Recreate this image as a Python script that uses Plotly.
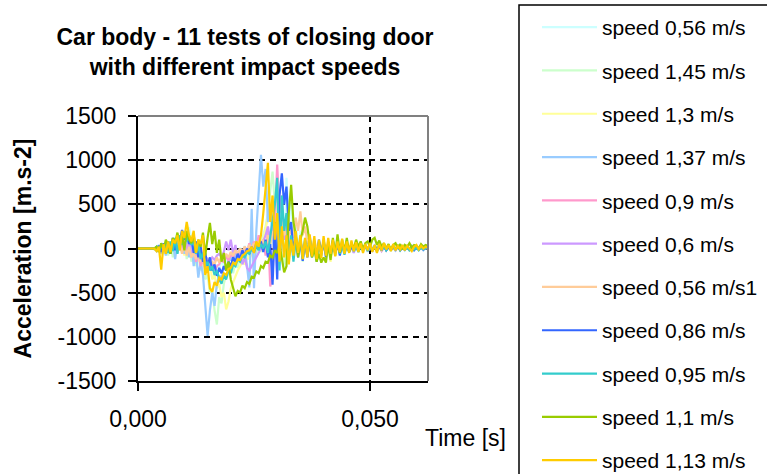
import plotly.graph_objects as go

# ---------------- data ----------------
SAMPLE_STEP_S = 0.0005
N_SAMPLES = 126
time_s = [round(i * SAMPLE_STEP_S, 4) for i in range(N_SAMPLES)]

series_names = [
    "speed 0,56 m/s", "speed 1,45 m/s", "speed 1,3 m/s", "speed 1,37 m/s",
    "speed 0,9 m/s", "speed 0,6 m/s", "speed 0,56 m/s1", "speed 0,86 m/s",
    "speed 0,95 m/s", "speed 1,1 m/s", "speed 1,13 m/s",
]
series_colors = [
    "#CCFFFF", "#CCFFCC", "#FFFF99", "#99CCFF", "#FF99CC", "#CC99FF",
    "#FFCC99", "#3366FF", "#33CCCC", "#99CC00", "#FFCC00",
]

acc_056 = [0, 0, 0, 0, 0, 0, 0, 0, 10, -20,
           30, -40, 60, -50, 80, -30, 100, -60, 120, 40,
           180, 60, 240, 120, 150, -40, 60, -120, -80, -180,
           -120, -200, -150, -260, -180, -230, -140, -200, -100, -160,
           -60, -120, -20, -90, 10, -60, 30, -40, 60, -20,
           40, -80, 80, 20, 150, -60, 200, 40, 120, -100,
           300, -150, 550, -210, 800, 300, 550, 100, 350, -50,
           200, -80, 120, -40, 90, -60, 60, -30, 80, -20,
           60, -50, 40, -30, 70, -10, 50, -40, 30, -20,
           60, -30, 40, -50, 30, -20, 50, -30, 20, -40,
           40, -20, 50, -30, 30, -10, 40, -20, 30, -30,
           20, -20, 30, -10, 40, -20, 20, -30, 30, -10,
           20, -20, 10, -10, 20, 0]

acc_145 = [0, 0, 0, 0, 0, 0, 0, -10, 20, -30,
           40, -60, 30, -80, 60, -100, 80, -40, 150, -60,
           120, -120, 80, -150, 40, -200, -50, -250, -150, -350,
           -300, -500, -450, -700, -860, -550, -620, -400, -300, -250,
           -200, -280, -150, -220, -100, -160, -50, -120, -20, -80,
           20, -60, 80, -40, 150, 250, 400, 650, 870, 500,
           300, -100, 150, -180, 100, -50, 120, -60, 80, -30,
           100, -150, 60, -80, 40, -60, 80, -20, 60, -40,
           50, -30, 70, -20, 40, -50, 30, -10, 50, -30,
           40, -20, 30, -40, 50, -10, 30, -30, 40, -20,
           30, -20, 40, -30, 20, -10, 30, -20, 40, -10,
           20, -30, 30, -10, 20, -20, 30, -10, 20, -20,
           10, -10, 20, -10, 10, 0]

acc_130 = [0, 0, 0, 0, 0, 0, 0, 0, -20, 30,
           -40, 20, -60, 40, -30, 80, -50, 100, -20, 60,
           -80, 120, -40, 150, -100, 60, -150, 20, -200, -100,
           -250, -180, -350, -300, -450, -400, -550, -500, -690, -600,
           -450, -380, -300, -250, -200, -150, -180, -100, -120, -60,
           -80, -20, 40, -30, 100, 200, 350, 500, 600, 300,
           150, -50, 100, -100, 80, -40, 60, -80, 40, -20,
           80, -60, 40, -100, 30, -50, 60, -120, 20, -60,
           40, -30, 60, -150, 20, -40, 50, -20, 30, -50,
           40, -30, 20, -40, 50, -20, 30, -10, 40, -30,
           20, -20, 30, -10, 40, -30, 20, -20, 30, -10,
           20, -10, 30, -20, 10, -10, 20, -20, 10, -10,
           20, -10, 10, -10, 10, 0]

acc_137 = [0, 0, 0, 0, 0, 0, 0, 0, -30, 40,
           -60, 20, -80, 50, -40, 100, -120, 60, -20, 80,
           -60, 120, -100, 60, -200, -50, -330, -150, -300, -600,
           -990, -700, -500, -650, -400, -300, -350, -200, -250, -150,
           -100, -180, -50, -120, -20, -80, 0, -200, -440, 450,
           -450, 200, 600, 1060, 700, 900, 300, 500, 100, -50,
           200, -100, 150, -80, 100, -50, 80, -60, 60, -20,
           80, -40, 50, -30, 40, -60, 70, -20, 30, -40,
           60, -30, 40, -20, 50, -40, 30, -10, 60, -30,
           40, -20, 30, -40, 50, -10, 40, -30, 20, -20,
           60, -10, 30, -30, 20, -10, 40, -20, 30, -10,
           20, -20, 30, -10, 20, -20, 10, -10, 30, -10,
           20, -10, 10, -20, 10, 0]

acc_090 = [0, 0, 0, 0, 0, 0, 0, 0, 10, -20,
           30, -30, 50, -40, 60, -20, 80, -50, 100, -30,
           120, -60, 80, -100, 40, -150, -50, -200, -120, -250,
           -180, -220, -150, -250, -200, -180, -120, -160, -80, -140,
           -60, -100, -20, -80, 0, -60, 20, -40, 60, -20,
           80, 0, 150, 50, 100, -80, 200, -430, -300, 300,
           950, 400, 600, 100, 300, -100, 150, -50, 100, -60,
           80, -40, 60, -80, 40, -20, 50, -30, 70, -40,
           40, -20, 60, -30, 30, -50, 40, -10, 50, -30,
           30, -20, 40, -30, 50, -20, 30, -10, 40, -20,
           30, -30, 20, -10, 40, -20, 30, -20, 20, -10,
           30, -10, 20, -20, 10, -10, 20, -20, 10, -10,
           20, -10, 10, -10, 10, 0]

acc_060 = [0, 0, 0, 0, 0, 0, 0, 0, 10, -10,
           20, -20, 40, -30, 50, -20, 60, -40, 80, -20,
           60, -50, 40, -80, 20, -100, -40, -150, -80, -180,
           -120, -150, -100, -130, -80, -60, -100, -40, 80, -20,
           100, -60, 40, -120, -50, -180, -100, -220, -250, -200,
           -150, -100, -50, 0, 80, 150, 250, 100, 300, 150,
           200, 50, 350, 100, 200, -50, 120, -60, 80, -40,
           60, -80, 40, -60, 30, -100, 50, -40, 20, -60,
           40, -20, 30, -80, 20, -40, 50, -30, 30, -20,
           40, -30, 20, -50, 30, -20, 40, -10, 30, -30,
           20, -20, 30, -10, 20, -30, 10, -10, 20, -10,
           10, -20, 20, -10, 10, -10, 20, -10, 10, -10,
           10, -10, 10, -10, 10, 0]

acc_056b = [0, 0, 0, 0, 0, 0, 0, 0, 10, -10,
            20, -30, 30, -40, 60, -20, 80, -40, 60, -60,
            40, -80, 20, -100, -40, -120, -60, -150, -100, -180,
            -120, -200, -150, -180, -100, -160, -80, -120, -60, -100,
            -40, -80, -20, -60, 0, -40, 20, -20, 40, 0,
            60, 20, 80, 40, 100, -20, 150, 50, 200, 100,
            250, 80, 300, 150, 200, 100, 250, 120, 350, 200,
            420, 150, 250, 50, 150, -20, 100, -30, 80, -20,
            60, -40, 50, -20, 70, -10, 40, -30, 50, -20,
            30, -10, 40, -30, 20, -10, 50, -20, 30, -10,
            40, -20, 20, -10, 30, -20, 20, -10, 30, -10,
            20, -10, 20, -20, 10, -10, 20, -10, 10, -10,
            10, -10, 10, -10, 10, 0]

acc_086 = [0, 0, 0, 0, 0, 0, 0, 0, -20, 30,
           -40, 60, -30, 80, -60, 120, -20, 150, 80, 210,
           100, 180, 50, 120, -50, 80, -100, 20, -150, -50,
           -200, -100, -250, -180, -310, -220, -280, -200, -250, -150,
           -200, -100, -150, -60, -120, -20, -80, 0, -60, 20,
           -40, 60, 0, 80, -40, 100, -100, 50, -410, 300,
           -350, 600, 850, 500, 700, 200, 300, -50, 150, -100,
           100, -140, 80, -100, 120, -80, 60, -120, 100, -60,
           80, -100, 50, -70, 90, -40, 60, -80, 50, -50,
           50, -40, 20, -20, 40, -30, 30, -10, 40, -20,
           20, -30, 30, -10, 20, -20, 40, -20, 10, -10,
           30, -10, 20, -20, 10, -10, 20, -10, 10, -20,
           10, -10, 20, -10, 10, 0]

acc_095 = [0, 0, 0, 0, 0, 0, 0, 0, 20, -30,
           40, -20, 60, -50, 80, -30, 120, -60, 150, 40,
           190, 80, 150, 40, 100, -60, 50, -120, -50, -200,
           -150, -250, -200, -300, -250, -350, -400, -300, -350, -250,
           -280, -180, -200, -120, -150, -80, -100, -40, -60, 0,
           -30, 20, -20, 50, 0, 80, -50, 150, 300, 500,
           800, -250, 600, 200, 400, -100, 150, -150, 100, -50,
           120, -120, 100, -60, 140, -100, 80, -150, 60, -80,
           100, -60, 50, -100, 70, -40, 80, -60, 40, -70,
           40, -20, 50, -30, 20, -40, 30, -10, 40, -30,
           30, -20, 20, -30, 40, -10, 20, -20, 30, -10,
           20, -10, 30, -20, 20, -10, 10, -20, 20, -10,
           10, -20, 10, -10, 10, 0]

acc_110 = [0, 0, 0, 0, 0, 0, 0, 0, 20, -40,
           60, -20, 100, 40, -60, 120, 60, 180, 40, 150,
           -20, 200, 100, 60, 150, -40, 100, 20, 180, -80,
           120, 290, 50, 200, -50, 100, -150, -50, -250, -150,
           -350, -450, -540, -480, -500, -420, -450, -380, -400, -320,
           -330, -260, -280, -200, -220, -150, -160, -80, -100, -20,
           -50, 50, -100, -270, -200, 400, 720, 300, 150, -100,
           100, 200, 350, 250, 50, -100, 0, -150, -60, -160,
           -100, -160, 60, -130, 120, -80, 160, -50, 100, -30,
           120, -40, 60, 0, 100, 20, 80, -10, 60, 80,
           20, 100, 120, 40, 90, 20, 60, 0, 50, -20,
           40, 60, 0, 50, -10, 40, 20, 60, 10, 40,
           30, 0, 50, 20, 40, 30]

acc_113 = [0, 0, 0, 0, 0, 0, 0, 0, -30, 20,
           -240, 50, -60, 80, -40, 100, 60, 150, -20, 200,
           120, 300, 150, 80, 200, -50, 100, 50, 150, -300,
           -200, -450, -490, -380, -420, -330, -350, -280, -300, -230,
           -220, -160, -180, -120, -130, -80, -60, -30, -20, 20,
           -50, 80, 20, 150, 400, 700, 970, 300, 600, 100,
           400, -150, 250, -100, 150, -180, 100, -80, 200, -50,
           150, -120, 120, -100, 160, -90, 140, -120, 100, -110,
           140, -80, 120, -60, 100, -90, 80, -40, 110, -60,
           80, -50, 90, -30, 70, -40, 60, -50, 50, -20,
           60, -40, 40, -50, 50, -20, 60, -10, 40, -30,
           50, -20, 30, -10, 40, -20, 30, 0, -30, 20,
           40, -10, 30, 0, 20, 10]

series_values = [acc_056, acc_145, acc_130, acc_137, acc_090, acc_060,
                 acc_056b, acc_086, acc_095, acc_110, acc_113]

x_tick_vals = [0.0, 0.05]
x_tick_text = ["0,000", "0,050"]
y_tick_vals = [-1500, -1000, -500, 0, 500, 1000, 1500]
y_tick_text = ["-1500", "-1000", "-500", "0", "500", "1000", "1500"]

# ---------------- figure ----------------
FONT = "Liberation Sans, Arial, sans-serif"
PLOT_L, PLOT_R, PLOT_T, PLOT_B = 138, 428, 116, 381
PW, PH = PLOT_R - PLOT_L, PLOT_B - PLOT_T


def px_x(px):
    return (px - PLOT_L) / PW


def px_y(py):
    return (PLOT_B - py) / PH


fig = go.Figure()
for i, (name, color, vals) in enumerate(zip(series_names, series_colors, series_values)):
    fig.add_trace(go.Scatter(
        x=time_s, y=vals, mode="lines", name=name,
        line=dict(color=color, width=2.2),
        legendgroup=f"g{i}",
    ))

fig.update_layout(
    width=767, height=474,
    paper_bgcolor="white", plot_bgcolor="white",
    margin=dict(l=PLOT_L, r=767 - PLOT_R, t=PLOT_T, b=474 - PLOT_B, autoexpand=False),
    font=dict(family=FONT, color="black"),
    title=dict(
        text="Car body - 11 tests of closing door<br>with different impact speeds",
        x=245 / 767, xanchor="center", xref="container",
        y=1 - 45 / 474, yanchor="top", yref="container",
        font=dict(family=FONT, size=23, weight="bold", color="black"),
    ),
    showlegend=True,
    legend=dict(
        x=px_x(537), xanchor="left",
        y=px_y(7), yanchor="top",
        borderwidth=0,
        bgcolor="rgba(0,0,0,0)",
        font=dict(family=FONT, size=21, color="black"),
        traceorder="grouped", tracegroupgap=13,
        itemwidth=55, maxheight=700,
    ),
)

fig.update_xaxes(
    range=[0, 0.0625], automargin=False,
    tickvals=x_tick_vals, ticktext=x_tick_text,
    ticks="outside", ticklen=8, tickwidth=2, tickcolor="black",
    showline=True, linecolor="black", linewidth=2,
    showgrid=True, gridcolor="black", gridwidth=2, griddash="6px,5px",
    zeroline=False,
    tickfont=dict(family=FONT, size=23, color="black"),
    ticklabelstandoff=8,
)
fig.update_yaxes(
    range=[-1500, 1500], automargin=False,
    tickvals=y_tick_vals, ticktext=y_tick_text,
    ticks="outside", ticklen=8, tickwidth=2, tickcolor="black",
    showline=True, linecolor="black", linewidth=2,
    showgrid=True, gridcolor="black", gridwidth=2, griddash="6px,5px",
    zeroline=False,
    tickfont=dict(family=FONT, size=23, color="black"),
    ticklabelstandoff=7,
    title=dict(text="Acceleration [m.s-2]", standoff=20,
               font=dict(family=FONT, size=23, weight="bold", color="black")),
)

# gray plot-area frame on top and right
fig.add_shape(type="line", xref="x domain", yref="y domain", x0=0, x1=1, y0=1, y1=1,
              line=dict(color="#808080", width=2), layer="above")
fig.add_shape(type="line", xref="x domain", yref="y domain", x0=1, x1=1, y0=0, y1=1,
              line=dict(color="#808080", width=2), layer="above")
# legend frame (extends past the right and bottom edges, as in the original)
fig.add_shape(type="rect", xref="paper", yref="paper",
              x0=px_x(519), x1=px_x(790), y0=px_y(5), y1=px_y(500),
              line=dict(color="black", width=1.5), fillcolor="rgba(0,0,0,0)", layer="below")

fig.add_annotation(
    text="Time [s]", xref="paper", yref="paper",
    x=px_x(465), y=px_y(438),
    xanchor="center", yanchor="middle", showarrow=False,
    font=dict(family=FONT, size=23, color="black"),
)

fig.write_html(
    "out.html",
    config={"displayModeBar": False},
    post_script="document.body.style.margin='0px';document.body.style.overflow='hidden';",
)
